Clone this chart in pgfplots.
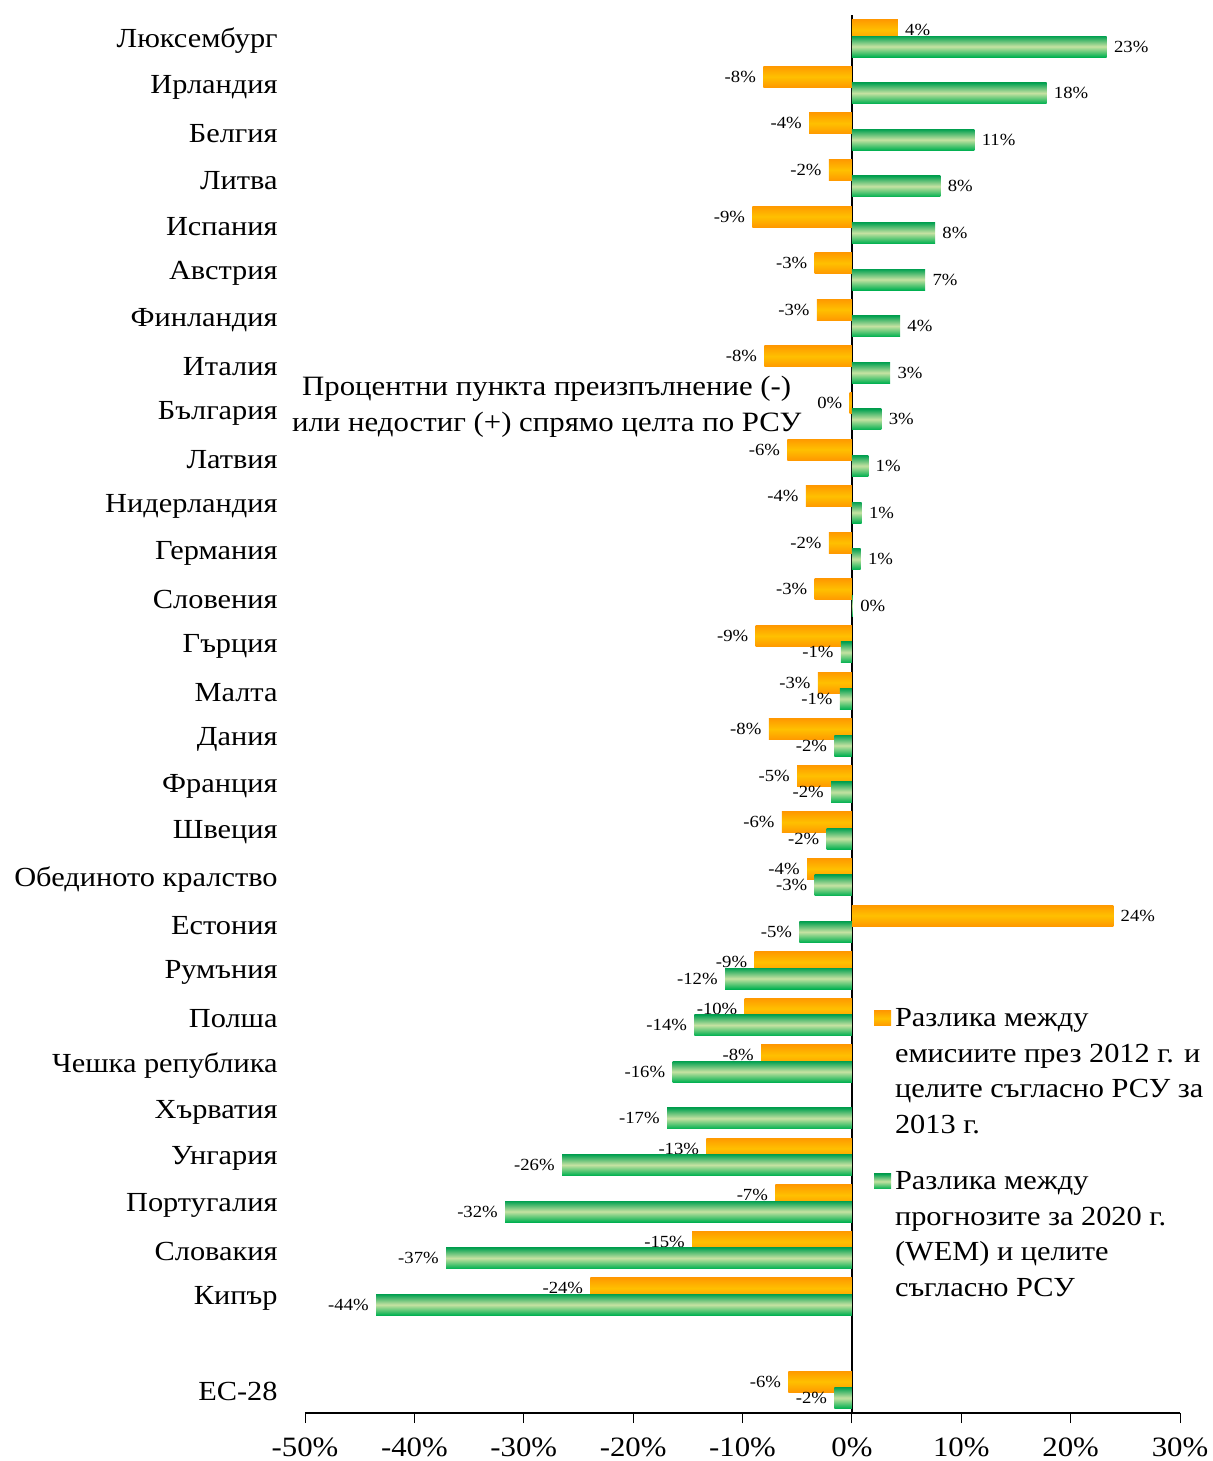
\documentclass[border=0pt]{standalone}
\usepackage{pgfplots}
\usepackage{pgfplotstable}
\pgfplotsset{compat=1.18}
\usepackage{fontspec}
\setmainfont{Liberation Serif}[FakeStretch=1.1]

\definecolor{orTop}{HTML}{FF9900}
\definecolor{orMid}{HTML}{FFC000}
\definecolor{grTop}{HTML}{00A050}
\definecolor{grMid}{HTML}{C6E2A2}
\definecolor{grBot}{HTML}{00B050}

% y = category index (0 = top), x = percentage points, lab = shown label
\pgfplotstableread{
y x lab
0 4.2 4
1 -8.1 -8
2 -3.9 -4
3 -2.1 -2
4 -9.1 -9
5 -3.4 -3
6 -3.2 -3
7 -8.0 -8
8 -0.2 0
9 -5.9 -6
10 -4.2 -4
11 -2.1 -2
12 -3.4 -3
13 -8.8 -9
14 -3.1 -3
15 -7.6 -8
16 -5.0 -5
17 -6.4 -6
18 -4.1 -4
19 23.9 24
20 -8.9 -9
21 -9.8 -10
22 -8.3 -8
24 -13.3 -13
25 -7.0 -7
26 -14.6 -15
27 -23.9 -24
29 -5.8 -6
}\emisii

\pgfplotstableread{
y x lab
0 23.3 23
1 17.8 18
2 11.2 11
3 8.1 8
4 7.6 8
5 6.7 7
6 4.4 4
7 3.5 3
8 2.7 3
9 1.5 1
10 0.9 1
11 0.8 1
12 0.1 0
13 -1.0 -1
14 -1.1 -1
15 -1.6 -2
16 -1.9 -2
17 -2.3 -2
18 -3.4 -3
19 -4.8 -5
20 -11.6 -12
21 -14.4 -14
22 -16.4 -16
23 -16.9 -17
24 -26.5 -26
25 -31.7 -32
26 -37.1 -37
27 -43.5 -44
29 -1.6 -2
}\prognozi

\pgfplotsset{
  orbar/.style={draw=none, top color=orTop, bottom color=orTop, middle color=orMid},
  grbar/.style={draw=none, top color=grTop, bottom color=grBot, middle color=grMid},
  barlabels/.style={
    point meta=explicit symbolic,
    nodes near coords={\pgfplotspointmeta\%},
    nodes near coords style={font=\fontsize{8.5}{10}\selectfont, inner sep=3.5pt, black},
  },
  % labels of negative bars sit left of the bar end, the others right of it
  negside/.style={restrict x to domain=-100:-0.0001, nodes near coords style={anchor=east}},
  posside/.style={restrict x to domain=0:100, nodes near coords style={anchor=west}},
}

\begin{document}
\begin{tikzpicture}
\begin{axis}[
  scale only axis,
  width=437.5pt, height=699pt,
  xbar, bar width=10.5pt,
  y dir=reverse,
  xmin=-50, xmax=30,
  ymin=-0.5, ymax=29.5,
  clip mode=individual,
  axis x line*=bottom,
  axis y line*=left,
  y axis line style={draw=none},
  x axis line style={line width=0.8pt},
  xtick={-50,-40,...,30},
  xticklabels={-50\%,-40\%,-30\%,-20\%,-10\%,0\%,10\%,20\%,30\%},
  xticklabel style={font=\fontsize{14}{16}\selectfont, inner sep=0pt, yshift=-7pt},
  tick align=outside,
  major tick length=5pt,
  xtick style={black, line width=0.4pt},
  ytick={0,1,...,27,29},
  yticklabels={Люксембург, Ирландия, Белгия, Литва, Испания, Австрия, Финландия,
    Италия, България, Латвия, Нидерландия, Германия, Словения, Гърция, Малта,
    Дания, Франция, Швеция, Обединото кралство, Естония, Румъния, Полша,
    Чешка република, Хърватия, Унгария, Португалия, Словакия, Кипър, ЕС-28},
  yticklabel style={font=\fontsize{13.8}{16}\selectfont, inner sep=0pt, xshift=-8.5pt, yshift=-1pt},
  ytick style={draw=none},
  extra x ticks={0},
  extra x tick labels={},
  extra x tick style={grid=major, major grid style={black, line width=0.8pt}},
  legend image code/.code={\path[#1] (0pt,0.5pt) rectangle (8.5pt,8pt);},
  legend style={at={(0.643,0.300)}, anchor=north west, draw=none, fill=none,
    row sep=6.5pt, cells={anchor=base west}, nodes={text depth=},
    font=\fontsize{13.8}{17.75}\selectfont},
]
\addlegendimage{orbar}
\addlegendentry{\begin{tabular}[t]{@{}l@{}}Разлика между\\емисиите през 2012 г. и\\целите съгласно РСУ за\\2013 г.\end{tabular}}
\addlegendimage{grbar}
\addlegendentry{\begin{tabular}[t]{@{}l@{}}Разлика между\\прогнозите за 2020 г.\\(WEM) и целите\\съгласно РСУ\end{tabular}}

% one plot per bar so that every bar gets its own gradient
\pgfplotsinvokeforeach{0,...,22,24,25,26,27,29}{
  \addplot[orbar, barlabels, negside, bar shift=4.1pt, forget plot, restrict y to domain=#1:#1]
    table[x=x, y=y, meta=lab] {\emisii};
  \addplot[orbar, barlabels, posside, bar shift=4.1pt, forget plot, restrict y to domain=#1:#1]
    table[x=x, y=y, meta=lab] {\emisii};
}
\pgfplotsinvokeforeach{0,...,27,29}{
  \addplot[grbar, barlabels, negside, bar shift=-4.1pt, forget plot, restrict y to domain=#1:#1]
    table[x=x, y=y, meta=lab] {\prognozi};
  \addplot[grbar, barlabels, posside, bar shift=-4.1pt, forget plot, restrict y to domain=#1:#1]
    table[x=x, y=y, meta=lab] {\prognozi};
}
\node[align=center, font=\fontsize{14}{18}\selectfont] at (axis cs:-27.9,7.9)
  {Процентни пункта преизпълнение (-)\\или недостиг (+) спрямо целта по РСУ};
\end{axis}
\pgfresetboundingbox
\path (current axis.south west) ++(-152.5pt,-24pt) rectangle ++(606pt,730.5pt);
\end{tikzpicture}
\end{document}
